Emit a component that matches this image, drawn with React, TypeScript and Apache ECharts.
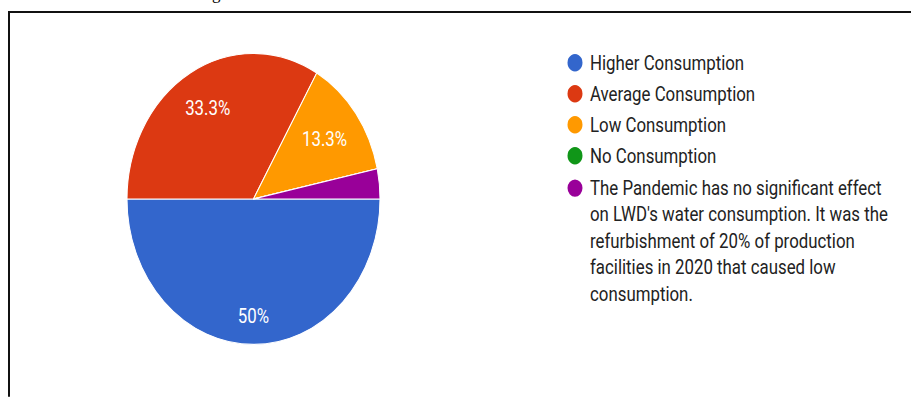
import React, { useEffect, useRef } from 'react';
import * as echarts from 'echarts';

const categories = [
  'Higher Consumption',
  'Average Consumption',
  'Low Consumption',
  'No Consumption',
  "The Pandemic has no significant effect on LWD's water consumption. It was the refurbishment of 20% of production facilities in 2020 that caused low consumption.",
];
const responses = [15, 10, 4, 0, 1];
const sliceColors = ['#3366cc', '#dc3912', '#ff9900', '#109618', '#990099'];

const W = 911;
const H = 397;
const SY = 1.15;
const CH = H / SY;
const FONT_SIZE = 16.85;
const FONT_FAMILY = 'Roboto';
const WRAP_WIDTH = 305;

function wrapText(text: string, maxWidth: number): string {
  const ctx = document.createElement('canvas').getContext('2d');
  if (!ctx) return text;
  ctx.font = `${FONT_SIZE}px ${FONT_FAMILY}`;
  const words = text.split(' ');
  const lines: string[] = [];
  let cur = '';
  for (const w of words) {
    const trial = cur ? cur + ' ' + w : w;
    if (cur && ctx.measureText(trial).width > maxWidth) {
      lines.push(cur);
      cur = w;
    } else {
      cur = trial;
    }
  }
  if (cur) lines.push(cur);
  return lines.join('\n');
}

export default function App() {
  const ref = useRef<HTMLDivElement>(null);
  useEffect(() => {
    const chart = echarts.init(ref.current!, null, { renderer: 'svg', width: W, height: CH });
    const total = responses.reduce((a, b) => a + b, 0);
    const fmtPct = (v: number) => `${Math.round((v / total) * 1000) / 10}%`;
    const R = 126.5;
    const center = [253.5, 173];
    const labelOffsets: Record<number, number[]> = { 0: [0, 10.5], 2: [-3, 2] };
    const textStyle = {
      fontFamily: FONT_FAMILY,
      fontSize: FONT_SIZE,
      color: '#222222',
      lineHeight: 23,
    };
    const formatter = (name: string) => wrapText(name, WRAP_WIDTH);
    const tallIcon =
      'path://M0,0 L0.01,0 Z M17,115 L16.99,115 Z M0,11.5 A8.5,8.5 0 1,1 17,11.5 A8.5,8.5 0 1,1 0,11.5 Z';
    chart.setOption({
      animation: false,
      backgroundColor: '#fff',
      legend: [
        {
          orient: 'vertical',
          left: 565.5,
          top: 43,
          padding: 0,
          itemWidth: 20,
          itemHeight: 17,
          itemGap: 4,
          icon: 'circle',
          selectedMode: false,
          data: categories.slice(0, 4),
          formatter,
          textStyle,
        },
        {
          orient: 'vertical',
          left: 565.5,
          top: 151,
          padding: 0,
          itemWidth: 20,
          itemHeight: 115,
          itemGap: 4,
          selectedMode: false,
          data: [{ name: categories[4], icon: tallIcon }],
          formatter,
          textStyle,
        },
      ],
      graphic: [
        { type: 'rect', shape: { x: 8, y: 11 / SY, width: W - 8, height: 2 / SY }, style: { fill: '#111' }, silent: true },
        { type: 'rect', shape: { x: 8, y: 11 / SY, width: 2, height: CH }, style: { fill: '#111' }, silent: true },
        {
          type: 'text',
          x: 212,
          y: -6.5,
          style: { text: 'g', font: '17px "Liberation Serif"', fill: '#000', verticalAlign: 'middle' },
          silent: true,
        },
      ],
      series: [
        {
          type: 'pie',
          center,
          radius: R,
          startAngle: 0,
          clockwise: true,
          silent: true,
          label: { show: false },
          labelLine: { show: false },
          emphasis: { disabled: true },
          itemStyle: { borderColor: '#fff', borderWidth: 1 },
          data: categories.map((name, i) => ({
            name,
            value: responses[i],
            itemStyle: { color: sliceColors[i] },
          })),
        },
        {
          type: 'pie',
          center,
          radius: [R * 0.56, R * 0.84],
          startAngle: 0,
          clockwise: true,
          silent: true,
          legendHoverLink: false,
          emphasis: { disabled: true },
          labelLine: { show: false },
          itemStyle: { color: 'rgba(0,0,0,0)', borderWidth: 0 },
          label: {
            show: true,
            position: 'inside',
            color: '#fff',
            fontFamily: FONT_FAMILY,
            fontSize: FONT_SIZE,
            formatter: (p: any) => (p.value / total >= 0.05 ? fmtPct(p.value) : ''),
          },
          data: categories.map((name, i) => ({
            name,
            value: responses[i],
            label: labelOffsets[i] ? { offset: labelOffsets[i] } : undefined,
          })),
        },
      ],
    });
    return () => chart.dispose();
  }, []);
  return (
    <div style={{ position: 'fixed', left: 0, top: 0, width: W, height: H, overflow: 'hidden', background: '#fff' }}>
      <div ref={ref} style={{ width: W, height: CH, transform: `scaleY(${SY})`, transformOrigin: '0 0' }} />
    </div>
  );
}
